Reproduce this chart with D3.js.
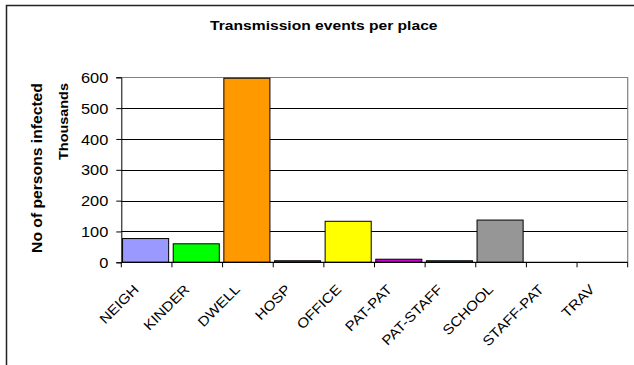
<!DOCTYPE html>
<html><head><meta charset="utf-8">
<script src="https://cdn.jsdelivr.net/npm/d3@7"></script>
<style>
html,body{margin:0;padding:0;background:#fff;}
svg{display:block;font-family:"Liberation Sans",Arial,sans-serif;}
</style></head>
<body><svg id="c" width="634" height="365"></svg>
<script>
const categories = ["NEIGH","KINDER","DWELL","HOSP","OFFICE","PAT-PAT","PAT-STAFF","SCHOOL","STAFF-PAT","TRAV"];
const values = [77, 60, 597, 5, 133, 10, 5, 137, 0, 0];
const colors = ["#9999FF","#00FF00","#FF9900","#993366","#FFFF00","#CC00CC","#0066CC","#969696","#CCFFFF","#FFCC99"];
const yTicks = [0,100,200,300,400,500,600];
const title = "Transmission events per place";
const yTitle = "No of persons infected";
const yUnit = "Thousands";

const svg = d3.select("#c");
const L = 121.3, R = 627.7, T = 77.3, B = 262.3;

// outer frame
svg.append("rect").attr("x",6.5).attr("y",5.5).attr("width",660).attr("height",400)
  .attr("fill","none").attr("stroke","#222").attr("stroke-width",1.5);

const x = d3.scaleBand().domain(categories).range([L,R]).padding(0);
const y = d3.scaleLinear().domain([0,600]).range([B,T]);

// gridlines
svg.append("g").selectAll("line").data(yTicks.filter(d=>d>0 && d<600)).join("line")
  .attr("x1",L).attr("x2",R).attr("y1",d=>Math.round(y(d))+0.5).attr("y2",d=>Math.round(y(d))+0.5)
  .attr("stroke","#000").attr("stroke-width",1);

// plot border top/right
svg.append("path")
  .attr("d",`M${L},${Math.round(T)+0.5}H${R}V${B}`)
  .attr("fill","none").attr("stroke","#808080").attr("stroke-width",1.2);

// bars
svg.append("g").selectAll("rect").data(categories).join("rect")
  .attr("x",d=>x(d)+x.bandwidth()*0.025)
  .attr("width",x.bandwidth()*0.91)
  .attr("y",(d,i)=>y(values[i]))
  .attr("height",(d,i)=>B-y(values[i]))
  .attr("fill",(d,i)=>colors[i])
  .attr("stroke","#000").attr("stroke-width",1);

// y axis
const sxT = 1.17;
const ya = svg.append("g").attr("transform",`translate(${L},0)`)
  .call(d3.axisLeft(y).tickValues(yTicks).tickSize(5).tickFormat(d3.format("d")));
ya.select(".domain").attr("stroke","#000");
ya.selectAll(".tick line").attr("stroke","#000");
ya.selectAll(".tick text").attr("font-size",14).attr("fill","#000")
  .attr("font-family","Liberation Sans, Arial, sans-serif")
  .attr("x",-13/sxT).attr("dy","0.36em").attr("transform",`scale(${sxT},1)`);

// x axis line and boundary ticks
svg.append("line").attr("x1",L).attr("x2",R).attr("y1",B).attr("y2",B).attr("stroke","#000").attr("stroke-width",1.2);
const bounds = categories.map(c=>x(c)).concat([x(categories[categories.length-1])+x.bandwidth()]);
svg.append("g").selectAll("line").data(bounds).join("line")
  .attr("x1",d=>d).attr("x2",d=>d).attr("y1",B).attr("y2",B+5)
  .attr("stroke","#000").attr("stroke-width",1);

// category labels
const sxC = 1.12;
const xa = svg.append("g").attr("transform",`translate(0,${B})`)
  .call(d3.axisBottom(x).tickSize(0));
xa.select(".domain").remove();
xa.selectAll(".tick text").attr("font-size",13.7).attr("fill","#000")
  .attr("font-family","Liberation Sans, Arial, sans-serif")
  .attr("text-anchor","end").attr("x",0).attr("y",0).attr("dy",0)
  .attr("transform",`translate(-7,28) rotate(-45) scale(${sxC},1)`);

// title
svg.append("text").attr("transform","translate(323.8,30) scale(1.14,1)")
  .attr("text-anchor","middle").attr("font-weight","bold").attr("font-size",13.7).text(title);

// y titles
svg.append("text").attr("transform","translate(42,168) rotate(-90) scale(1.12,1)")
  .attr("text-anchor","middle").attr("font-weight","bold").attr("font-size",14).text(yTitle);
svg.append("text").attr("transform","translate(67.5,121.5) rotate(-90) scale(1.11,1)")
  .attr("text-anchor","middle").attr("font-weight","bold").attr("font-size",13).text(yUnit);
</script></body></html>
